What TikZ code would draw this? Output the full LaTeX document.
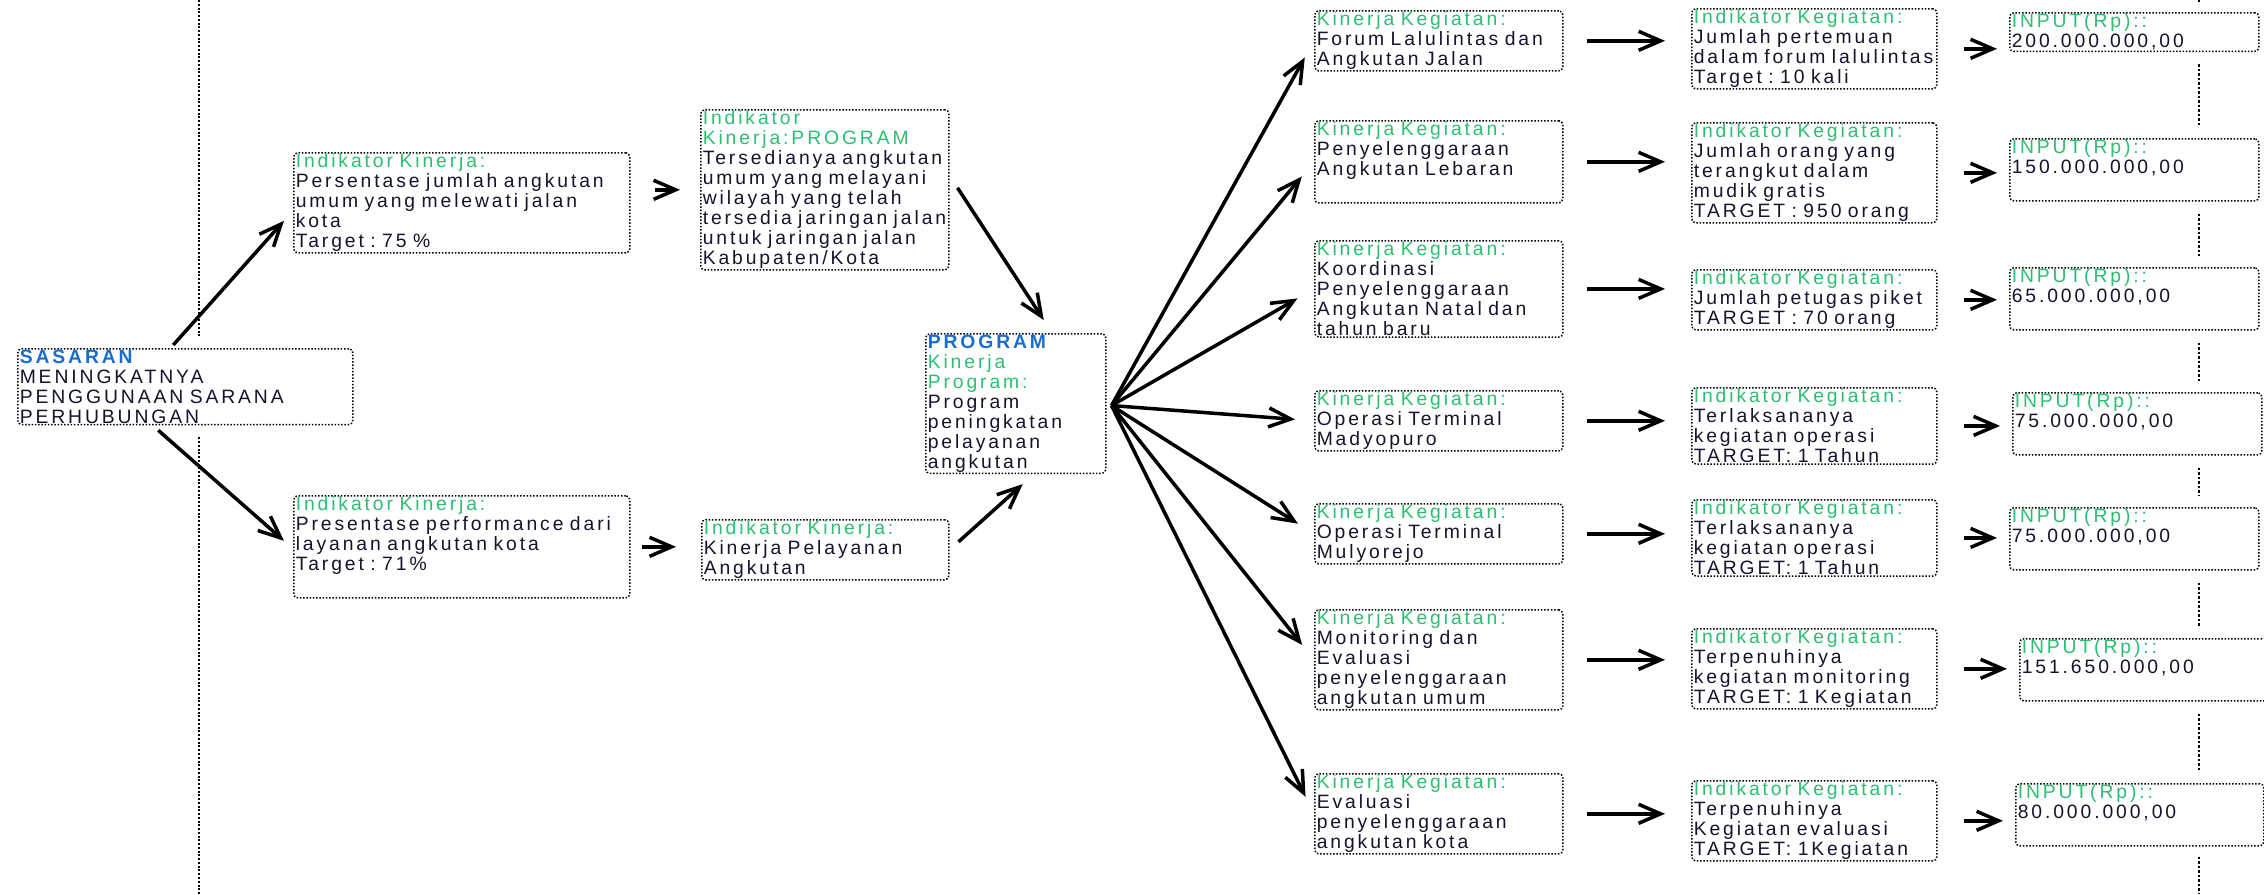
\documentclass[tikz,border=0pt]{standalone}
\usepackage{fontspec}
\setmainfont{Liberation Sans}[LetterSpace=15,WordSpace=1.6]
\usetikzlibrary{arrows.meta,positioning}
\definecolor{hijau}{RGB}{45,190,115}
\definecolor{biru}{RGB}{25,110,205}
\definecolor{gelap}{RGB}{20,20,45}
\newcommand{\judul}[1]{\textcolor{hijau}{#1}}
\newcommand{\kepala}[1]{\textcolor{biru}{\textbf{#1}}}
\tikzset{
    %Define standard arrow tip
    >={Straight Barb[length=4.4mm,width=3.8mm]},
    %Define style for boxes
    kotak/.style={
           rectangle,
           rounded corners=0.8mm,
           draw=black, line width=0.3mm, densely dotted,
           fill=white,
           anchor=north west,
           inner xsep=0.4mm, inner ysep=0.6pt,
           align=left,
           font=\fontsize{11}{11.38}\selectfont,
           text=gelap},
    kegiatan/.style={kotak, text width=48.8mm},
    indikator/.style={kotak, text width=48.2mm},
    input/.style={kotak, text width=49mm},
    % Define arrow style
    panah/.style={
           ->,
           line width=0.7mm},
    garis/.style={
           line width=0.4mm, densely dotted},
    sambung/.style={
           line width=0.55mm, densely dotted}
}
\begin{document}
\begin{tikzpicture}[x=0.2mm,y=-0.2mm]
\useasboundingbox (0,0) rectangle (2264,894);
% sasaran dan indikator kinerja
\node[kotak, text width=66.2mm] (SAS) at (17,348) {\kepala{SASARAN}\\MENINGKATNYA\\PENGGUNAAN~SARANA\\PERHUBUNGAN};
\node[kotak, text width=66.4mm] (IK1) at (293,152) {\judul{Indikator~Kinerja:}\\Persentase~jumlah~angkutan\\umum~yang~melewati~jalan\\kota\\Target~:~75~\%};
\node[kotak, text width=66.4mm] (IK2) at (293,495) {\judul{Indikator~Kinerja:}\\Presentase~performance~dari\\layanan~angkutan~kota\\Target~:~71\%\\\strut};
\node[kotak, text width=48.8mm] (IKP) at (700,109) {\judul{Indikator}\\\judul{Kinerja:PROGRAM}\\Tersedianya~angkutan\\umum~yang~melayani\\wilayah~yang~telah\\tersedia~jaringan~jalan\\untuk~jaringan~jalan\\Kabupaten/Kota};
\node[kotak, text width=48.6mm] (IK3) at (701,519) {\judul{Indikator~Kinerja:}\\Kinerja~Pelayanan\\Angkutan};
\node[kotak, text width=35.2mm] (PROG) at (925,333) {\kepala{PROGRAM}\\\judul{Kinerja}\\\judul{Program:}\\Program\\peningkatan\\pelayanan\\angkutan};
% kinerja kegiatan
\node[kegiatan] (K1) at (1314,10) {\judul{Kinerja~Kegiatan:}\\Forum~Lalulintas~dan\\Angkutan~Jalan};
\node[kegiatan] (K2) at (1314,120) {\judul{Kinerja~Kegiatan:}\\Penyelenggaraan\\Angkutan~Lebaran\\\strut};
\node[kegiatan] (K3) at (1314,240) {\judul{Kinerja~Kegiatan:}\\Koordinasi\\Penyelenggaraan\\Angkutan~Natal~dan\\tahun~baru};
\node[kegiatan] (K4) at (1314,390) {\judul{Kinerja~Kegiatan:}\\Operasi~Terminal\\Madyopuro};
\node[kegiatan] (K5) at (1314,503) {\judul{Kinerja~Kegiatan:}\\Operasi~Terminal\\Mulyorejo};
\node[kegiatan] (K6) at (1314,609) {\judul{Kinerja~Kegiatan:}\\Monitoring~dan\\Evaluasi\\penyelenggaraan\\angkutan~umum};
\node[kegiatan] (K7) at (1314,773) {\judul{Kinerja~Kegiatan:}\\Evaluasi\\penyelenggaraan\\angkutan~kota};
% indikator kegiatan
\node[indikator] (IKeg1) at (1691,8) {\judul{Indikator~Kegiatan:}\\Jumlah~pertemuan\\dalam~forum~lalulintas\\Target~:~10~kali};
\node[indikator] (IKeg2) at (1691,122) {\judul{Indikator~Kegiatan:}\\Jumlah~orang~yang\\terangkut~dalam\\mudik~gratis\\TARGET~:~950~orang};
\node[indikator] (IKeg3) at (1691,269) {\judul{Indikator~Kegiatan:}\\Jumlah~petugas~piket\\TARGET~:~70~orang};
\node[indikator] (IKeg4) at (1691,387) {\judul{Indikator~Kegiatan:}\\Terlaksananya\\kegiatan~operasi\\TARGET:~1~Tahun};
\node[indikator] (IKeg5) at (1691,499) {\judul{Indikator~Kegiatan:}\\Terlaksananya\\kegiatan~operasi\\TARGET:~1~Tahun};
\node[indikator] (IKeg6) at (1691,628) {\judul{Indikator~Kegiatan:}\\Terpenuhinya\\kegiatan~monitoring\\TARGET:~1~Kegiatan};
\node[indikator] (IKeg7) at (1691,780) {\judul{Indikator~Kegiatan:}\\Terpenuhinya\\Kegiatan~evaluasi\\TARGET:~1Kegiatan};
% input
\node[input] (INP1) at (2009,12) {\judul{INPUT(Rp)::}\\200.000.000,00};
\node[input] (INP2) at (2009,138) {\judul{INPUT(Rp)::}\\150.000.000,00\\\strut};
\node[input] (INP3) at (2009,267) {\judul{INPUT(Rp)::}\\65.000.000,00\\\strut};
\node[input] (INP4) at (2012,392) {\judul{INPUT(Rp)::}\\75.000.000,00\\\strut};
\node[input] (INP5) at (2009,507) {\judul{INPUT(Rp)::}\\75.000.000,00\\\strut};
\node[input, text width=50.4mm] (INP6) at (2019,638) {\judul{INPUT(Rp)::}\\151.650.000,00\\\strut};
\node[input, text width=48.8mm] (INP7) at (2015,783) {\judul{INPUT(Rp)::}\\80.000.000,00\\\strut};
% garis pemisah dan penghubung
\coordinate (atas) at (199,0);
\coordinate (bawah) at (199,894);
\draw[garis, shorten >=2.2mm] (atas) -- (atas |- SAS.north);
\draw[garis, shorten >=2.2mm] (bawah) -- (bawah |- SAS.south);
\coordinate (rel) at (2199,0);
\coordinate (relb) at (2199,894);
\draw[sambung, shorten <=2mm] (INP1.north -| rel) -- (rel);
\foreach \i/\j in {1/2,2/3,3/4,4/5,5/6,6/7}
    \draw[sambung, shorten <=2.4mm, shorten >=2.2mm] (INP\i.south -| rel) -- (INP\j.north -| rel);
\draw[sambung, shorten <=2mm] (INP7.south -| rel) -- (relb);
% panah
\draw[panah] ([shift={(-12,-3)}]SAS.north) -- ([shift={(-9,18)}]IK1.west);
\draw[panah] ([shift={(-27,5)}]SAS.south) -- ([shift={(-9,-6)}]IK2.west);
\draw[panah, shorten <=4.8mm, shorten >=4mm] (IK1.east |- IKP.west) -- (IKP.west);
\draw[panah, shorten <=2.2mm, shorten >=5mm] (IK2.east) -- (IK2.east -| IK3.west);
\draw[panah] ([shift={(8,-2)}]IKP.east) -- ([shift={(28,-13)}]PROG.north);
\draw[panah] ([shift={(9,-8)}]IK3.east) -- ([shift={(7,10)}]PROG.south);
\coordinate (fan) at ([shift={(5,2)}]PROG.east);
\foreach \i in {1,...,7}{
    \draw[panah, shorten >=3.8mm] (fan) -- (K\i.west);
    \draw[panah, shorten <=4.6mm, shorten >=5.2mm] (K\i.east) -- (K\i.east -| IKeg\i.west);
    \draw[panah, shorten <=5.2mm, shorten >=2.4mm] (IKeg\i.east) -- (IKeg\i.east -| INP\i.west);
}
\end{tikzpicture}
\end{document}
